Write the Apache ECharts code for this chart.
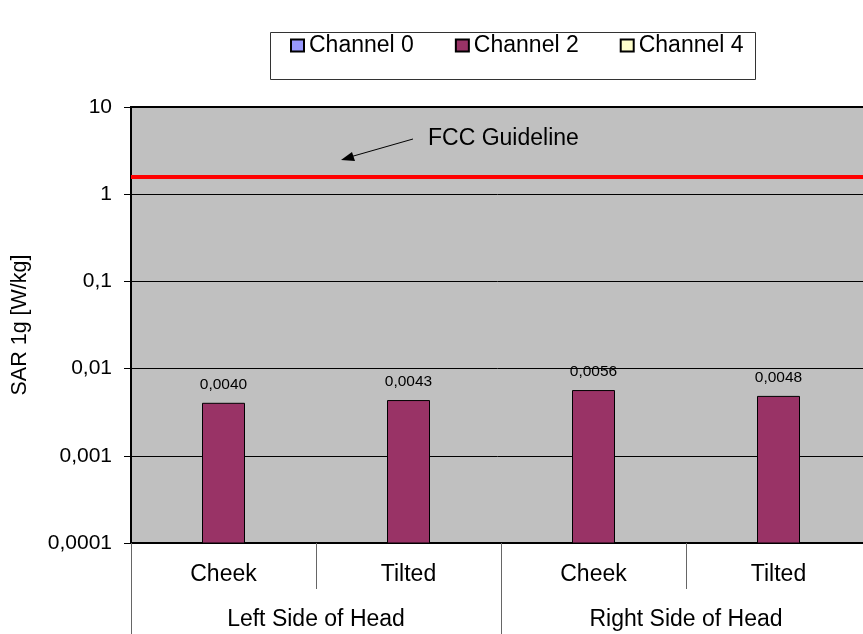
<!DOCTYPE html>
<html>
<head>
<meta charset="utf-8">
<script src="https://cdn.jsdelivr.net/npm/echarts@6/dist/echarts.min.js"></script>
<style>
html,body{margin:0;padding:0;background:#fff;}
#chart{width:863px;height:634px;}
</style>
</head>
<body>
<div id="chart"></div>
<script>
const categories = ['Cheek', 'Tilted', 'Cheek', 'Tilted'];
const groups = ['Left Side of Head', 'Right Side of Head'];
const seriesNames = ['Channel 0', 'Channel 2', 'Channel 4'];
const channel0 = [null, null, null, null];
const channel2 = [0.0040, 0.0043, 0.0056, 0.0048];
const channel4 = [null, null, null, null];
const yTickLabels = ['0,0001', '0,001', '0,01', '0,1', '1', '10'];
const yMin = 0.0001;
const yMax = 10;
const fccGuideline = 1.6;
const annotationText = 'FCC Guideline';
const seriesColors = ['#9999FF', '#993366', '#FFFFCC'];

const FONT = 'Liberation Sans, Arial, sans-serif';
const BAR_W = 42;
const chart = echarts.init(document.getElementById('chart'));

// bars on a log axis must grow from the axis minimum, so draw them with a custom series
function logBarSeries(name, values, color, offsetIndex, withExtras) {
  const data = values.map((v, i) => [i, v]).filter(d => d[1] != null);
  const s = {
    name: name,
    type: 'custom',
    coordinateSystem: 'cartesian2d',
    itemStyle: { color: color, borderColor: '#000', borderWidth: 1 },
    encode: { x: 0, y: 1 },
    data: data,
    silent: true,
    renderItem: function (params, api) {
      const idx = api.value(0);
      const v = api.value(1);
      const top = api.coord([idx, v]);
      const base = api.coord([idx, yMin]);
      const cx = top[0] + offsetIndex * BAR_W;
      const el = {
        type: 'rect',
        shape: { x: cx - BAR_W / 2, y: top[1], width: BAR_W, height: base[1] - top[1] },
        style: { fill: color, stroke: '#000', lineWidth: 1 }
      };
      if (withExtras) {
        el.textContent = {
          style: {
            text: v.toFixed(4).replace('.', ','),
            font: '15.5px ' + FONT, fill: '#000'
          }
        };
        el.textConfig = { position: 'top', distance: 10 };
      }
      return el;
    }
  };
  if (withExtras) {
    s.markLine = {
      silent: true,
      symbol: ['none', 'none'],
      label: { show: false },
      lineStyle: { color: '#FF0000', width: 4, type: 'solid' },
      data: [{ yAxis: fccGuideline }]
    };
  }
  return s;
}

chart.setOption({
  animation: false,
  textStyle: { fontFamily: FONT },
  grid: {
    left: 131, top: 107, width: 740, bottom: 91,
    outerBoundsMode: 'none', containLabel: false,
    show: true, backgroundColor: '#C0C0C0', borderColor: '#000', borderWidth: 2
  },
  legend: {
    left: 285, top: 29,
    itemWidth: 13, itemHeight: 12, itemGap: 41,
    icon: 'rect',
    textStyle: { fontFamily: FONT, fontSize: 23, color: '#000' },
    data: seriesNames
  },
  xAxis: [
    {
      type: 'category', data: categories, position: 'bottom',
      axisLine: { show: true, lineStyle: { color: '#000', width: 2 } },
      axisTick: { show: true, interval: 0, length: 46, lineStyle: { color: '#666', width: 1 } },
      axisLabel: { interval: 0, margin: 20, fontFamily: FONT, fontSize: 23, color: '#000' },
      splitLine: { show: false }
    },
    {
      type: 'category', data: groups, position: 'bottom', gridIndex: 0,
      axisLine: { show: false },
      axisTick: { show: true, interval: 0, length: 91, lineStyle: { color: '#666', width: 1 } },
      axisLabel: { interval: 0, margin: 65, fontFamily: FONT, fontSize: 23, color: '#000' },
      splitLine: { show: false }
    }
  ],
  yAxis: {
    type: 'log', logBase: 10, min: yMin, max: yMax,
    name: 'SAR 1g [W/kg]', nameLocation: 'middle', nameGap: 100,
    nameTextStyle: { fontFamily: FONT, fontSize: 21.5, color: '#000' },
    axisLine: { show: true, lineStyle: { color: '#000', width: 2 } },
    axisTick: { show: true, inside: false, length: 7, lineStyle: { color: '#000' } },
    axisLabel: {
      margin: 19, fontFamily: FONT, fontSize: 21, color: '#000',
      formatter: v => yTickLabels[Math.round(Math.log10(v)) + 4]
    },
    splitLine: { show: true, lineStyle: { color: '#000', width: 1 } },
    minorTick: { show: false }
  },
  series: [
    logBarSeries(seriesNames[0], channel0, seriesColors[0], -1, false),
    logBarSeries(seriesNames[1], channel2, seriesColors[1], 0, true),
    logBarSeries(seriesNames[2], channel4, seriesColors[2], 1, false)
  ],
  graphic: [
    { type: 'rect', left: 268, top: 30, shape: { width: 485, height: 47 },
      style: { fill: 'none', stroke: '#333', lineWidth: 1 }, silent: true },
    { type: 'text', left: 428, top: 127,
      style: { text: annotationText, font: '23px ' + FONT, fill: '#000' }, silent: true },
    { type: 'line', shape: { x1: 413, y1: 139, x2: 350, y2: 157 },
      style: { stroke: '#000', lineWidth: 1 }, silent: true },
    { type: 'polygon', shape: { points: [[341, 160], [352, 152], [355, 161]] },
      style: { fill: '#000' }, silent: true }
  ]
});
</script>
</body>
</html>
